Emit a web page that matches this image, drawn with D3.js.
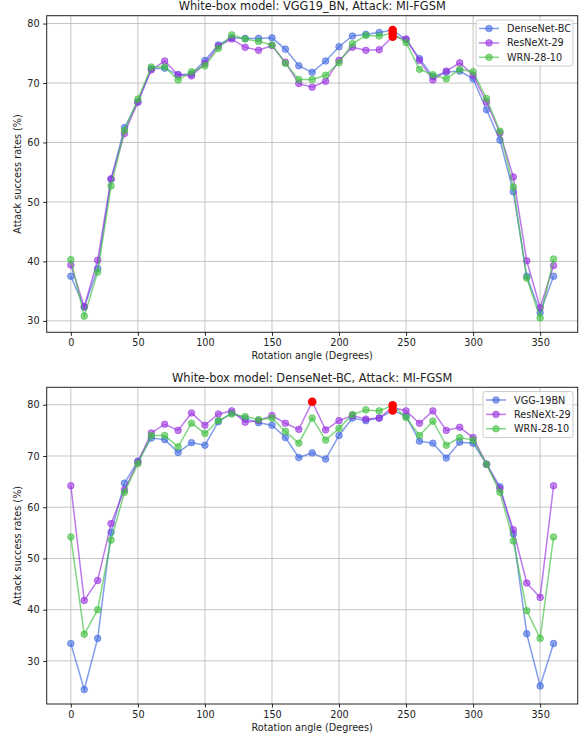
<!DOCTYPE html>
<html>
<head>
<meta charset="utf-8">
<script src="https://cdn.jsdelivr.net/npm/d3@7"></script>
<style>
  body { margin: 0; background: #fff; }
  svg text { font-family: "DejaVu Sans", sans-serif; fill: #222; }
  .axis path, .axis line { stroke: #222; }
  .grid line { stroke: #c4c4c4; stroke-width: 1; }
</style>
</head>
<body>
<div id="chart"></div>
<script>
// rotation angles, 0..360 every 10 degrees
var angles = [0,10,20,30,40,50,60,70,80,90,100,110,120,130,140,150,160,170,180,
              190,200,210,220,230,240,250,260,270,280,290,300,310,320,330,340,350,360];
var xTicks = [0,50,100,150,200,250,300,350];

// top plot - white-box VGG19_BN
var topTitle = "White-box model: VGG19_BN, Attack: MI-FGSM";
var topNames = ["DenseNet-BC", "ResNeXt-29", "WRN-28-10"];
var topDense = [37.5,32.3,38.8,53.8,62.5,66.8,72.4,72.5,71.4,71.5,73.8,76.4,77.6,77.5,77.5,77.6,75.7,72.9,71.8,
                73.7,76.1,77.9,78.2,78.5,78.9,77.3,74.1,71.1,71.8,72.0,70.7,65.5,60.4,51.7,37.5,31.4,37.5];
var topResnext = [39.4,32.4,40.2,53.9,61.5,66.8,72.2,73.7,71.4,71.2,73.3,76.2,77.4,76.0,75.5,76.3,73.5,69.9,69.3,
                  70.3,73.8,76.0,75.5,75.6,77.8,77.4,73.8,70.5,72.0,73.4,71.3,66.8,61.6,54.2,40.1,32.2,39.3];
var topWrn = [40.3,30.8,38.2,52.7,62.0,67.3,72.7,72.7,70.5,71.9,72.9,75.8,78.1,77.4,77.0,76.4,73.3,70.6,70.6,
              71.3,73.4,76.6,78.0,77.9,78.4,76.8,72.3,71.4,70.7,72.3,71.9,67.4,61.9,52.5,37.2,30.5,40.4];

// bottom plot - white-box DenseNet-BC
var botTitle = "White-box model: DenseNet-BC, Attack: MI-FGSM";
var botNames = ["VGG-19BN", "ResNeXt-29", "WRN-28-10"];
var botVgg = [33.4,24.4,34.4,55.1,64.7,69.0,73.5,73.2,70.7,72.6,72.1,76.7,78.4,77.3,76.5,76.0,73.6,69.7,70.6,
              69.4,74.0,77.4,76.9,77.4,78.9,77.8,72.9,72.5,69.6,72.7,72.5,68.4,64.0,54.8,35.3,25.1,33.4];
var botResnext = [64.2,41.8,45.7,56.8,63.4,68.8,74.5,76.2,75.0,78.4,76.0,78.2,78.8,76.6,76.9,77.9,76.4,75.2,80.6,
                  75.1,76.9,77.9,77.2,77.4,79.5,78.8,76.4,78.8,75.0,75.6,73.6,68.4,63.6,55.6,45.2,42.4,64.2];
var botWrn = [54.2,35.2,40.0,53.6,62.9,68.5,74.0,74.0,71.8,76.4,74.4,76.9,78.2,77.7,77.1,77.4,74.8,72.5,77.4,
              73.1,75.4,78.1,79.0,78.8,79.9,77.5,74.0,76.8,72.1,73.6,73.1,68.4,62.9,53.4,39.8,34.4,54.2];

var colors = ["#4169e1", "#9932e0", "#40c040"];

var W = 587, H = 738;
var svg = d3.select('#chart').append('svg')
    .attr('width', W)
    .attr('height', H);

function drawPlot(box, title, names, series, legendBox) {
    var g = svg.append('g');

    // y domain like matplotlib, 5% margin around all values
    var all = d3.merge(series);
    var lo = d3.min(all), hi = d3.max(all), pad = (hi - lo) * 0.05;
    var scaleX = d3.scaleLinear().domain([-18, 378]).range([box.l, box.r]);
    var scaleY = d3.scaleLinear().domain([lo - pad, hi + pad]).range([box.b, box.t]);
    var yTicks = d3.range(30, 81, 10);

    // grid
    g.append('g').attr('class', 'grid')
        .selectAll('line.gx').data(xTicks).enter().append('line')
        .attr('x1', d => scaleX(d)).attr('x2', d => scaleX(d))
        .attr('y1', box.t).attr('y2', box.b);
    g.append('g').attr('class', 'grid')
        .selectAll('line.gy').data(yTicks).enter().append('line')
        .attr('x1', box.l).attr('x2', box.r)
        .attr('y1', d => scaleY(d)).attr('y2', d => scaleY(d));

    // lines and dots
    var line = d3.line()
        .x((d, i) => scaleX(angles[i]))
        .y(d => scaleY(d));

    series.forEach(function(s, k) {
        var sg = g.append('g');
        sg.append('path')
            .datum(s)
            .attr('d', line)
            .attr('fill', 'none')
            .attr('stroke', colors[k])
            .attr('stroke-opacity', 0.65)
            .attr('stroke-width', 1.5);
        sg.selectAll('circle').data(s).enter().append('circle')
            .attr('cx', (d, i) => scaleX(angles[i]))
            .attr('cy', d => scaleY(d))
            .attr('r', 3.3)
            .attr('fill', colors[k])
            .attr('fill-opacity', 0.6)
            .attr('stroke', colors[k])
            .attr('stroke-opacity', 0.6)
            .attr('stroke-width', 1);
    });

    // red dot on the best angle of each series
    series.forEach(function(s) {
        var i = d3.maxIndex(s);
        g.append('circle')
            .attr('cx', scaleX(angles[i]))
            .attr('cy', scaleY(s[i]))
            .attr('r', 4.3)
            .attr('fill', 'red');
    });

    // axes
    var axisX = d3.axisBottom(scaleX).tickValues(xTicks).tickSize(3.5).tickPadding(3.5);
    var axisY = d3.axisLeft(scaleY).tickValues(yTicks).tickSize(3.5).tickPadding(3.5);
    g.append('g').attr('class', 'axis')
        .attr('transform', 'translate(0,' + box.b + ')')
        .call(axisX).call(a => a.select('.domain').remove())
        .selectAll('text').attr('font-size', 9.7).attr('fill', '#222');
    g.append('g').attr('class', 'axis')
        .attr('transform', 'translate(' + box.l + ',0)')
        .call(axisY).call(a => a.select('.domain').remove())
        .selectAll('text').attr('font-size', 9.7).attr('fill', '#222');

    // frame
    g.append('rect')
        .attr('x', box.l).attr('y', box.t)
        .attr('width', box.r - box.l).attr('height', box.b - box.t)
        .attr('fill', 'none').attr('stroke', '#222').attr('stroke-width', 1);

    // titles
    var cx = (box.l + box.r) / 2;
    g.append('text').attr('x', cx).attr('y', box.t - 5.5)
        .attr('text-anchor', 'middle').attr('font-size', 11.4)
        .text(title);
    g.append('text').attr('x', cx).attr('y', box.b + 27)
        .attr('text-anchor', 'middle').attr('font-size', 9.7)
        .text('Rotation angle (Degrees)');
    g.append('text')
        .attr('transform', 'translate(21,' + ((box.t + box.b) / 2) + ') rotate(-90)')
        .attr('text-anchor', 'middle').attr('font-size', 9.7)
        .text('Attack success rates (%)');

    // legend
    var lg = g.append('g').attr('transform', 'translate(' + legendBox.x + ',' + legendBox.y + ')');
    lg.append('rect')
        .attr('width', legendBox.w).attr('height', 46).attr('rx', 2.5)
        .attr('fill', 'white').attr('fill-opacity', 0.8)
        .attr('stroke', '#cccccc');
    names.forEach(function(n, k) {
        var yy = 8.5 + k * 14.4;
        lg.append('line').attr('x1', 3).attr('x2', 23).attr('y1', yy).attr('y2', yy)
            .attr('stroke', colors[k]).attr('stroke-opacity', 0.65).attr('stroke-width', 1.5);
        lg.append('circle').attr('cx', 13).attr('cy', yy).attr('r', 3.3)
            .attr('fill', colors[k]).attr('fill-opacity', 0.6)
            .attr('stroke', colors[k]).attr('stroke-opacity', 0.6);
        lg.append('text').attr('x', 31).attr('y', yy + 3.5)
            .attr('font-size', 9.7).text(n);
    });
}

drawPlot({l: 46.7, r: 577.7, t: 15.7, b: 332.3}, topTitle, topNames,
         [topDense, topResnext, topWrn], {x: 476, y: 20, w: 97});
drawPlot({l: 46.7, r: 577.7, t: 387.3, b: 704}, botTitle, botNames,
         [botVgg, botResnext, botWrn], {x: 483, y: 391.5, w: 90});
</script>
</body>
</html>
